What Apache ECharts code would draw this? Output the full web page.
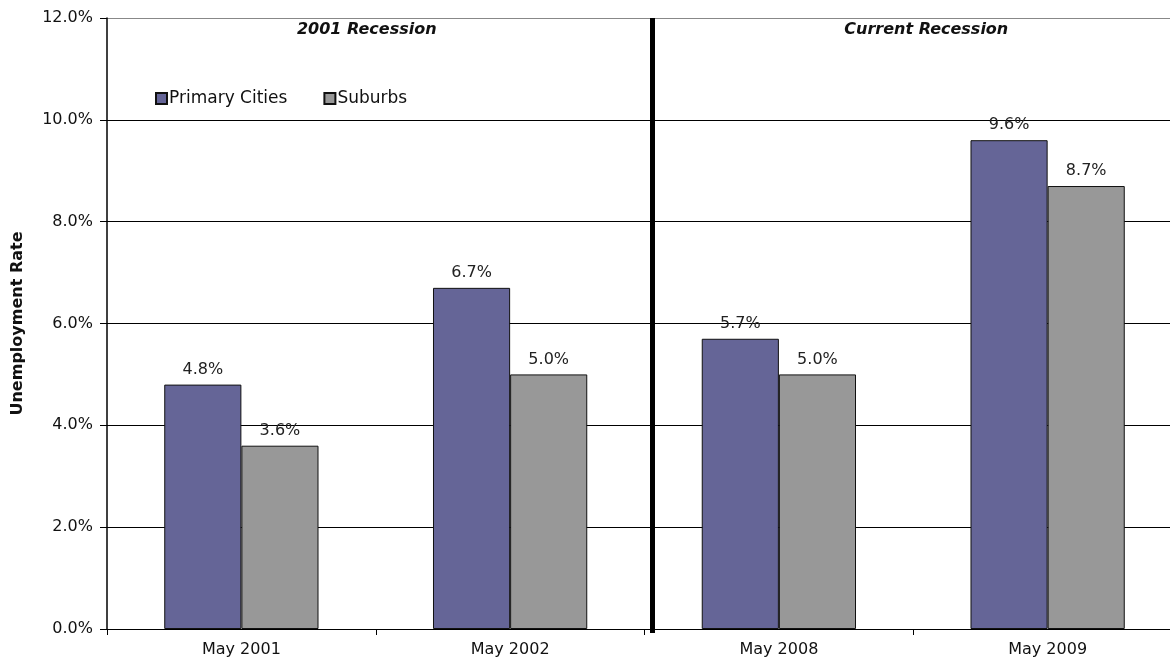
<!DOCTYPE html>
<html>
<head>
<meta charset="utf-8">
<script src="https://cdn.jsdelivr.net/npm/echarts@6/dist/echarts.min.js"></script>
<style>
  html, body { margin: 0; padding: 0; background: #fff; }
  #chart { width: 1170px; height: 662px; }
</style>
</head>
<body>
<div id="chart"></div>
<script>
// Unemployment rate by place type, two recessions
const categories = ['May 2001', 'May 2002', 'May 2008', 'May 2009'];
const primaryCities = [4.8, 6.7, 5.7, 9.6];
const suburbs = [3.6, 5.0, 5.0, 8.7];
const yTicks = { min: 0, max: 12, interval: 2 };
const periodLabels = [
  { text: '2001 Recession', from: 0, to: 1 },
  { text: 'Current Recession', from: 2, to: 3 }
];

const FONT = '"DejaVu Sans", "Liberation Sans", Arial, sans-serif';
const pct = v => v.toFixed(1) + '%';

const chart = echarts.init(document.getElementById('chart'), null, { renderer: 'canvas' });

const barLabel = {
  show: true,
  position: 'top',
  distance: 7,
  color: '#222',
  fontFamily: FONT,
  fontSize: 16,
  formatter: p => pct(p.value)
};

// gridlines are black, the top edge of the plot a lighter grey
const gridColors = ['#000', '#000', '#000', '#000', '#000', '#000', '#888'];

chart.setOption({
  animation: false,
  backgroundColor: '#fff',
  textStyle: { fontFamily: FONT },
  grid: {
    left: 107, width: 1075, top: 18, bottom: 33,
    containLabel: false, outerBoundsMode: 'none'
  },
  legend: {
    left: 150,
    top: 85,
    itemWidth: 11,
    itemHeight: 11,
    itemGap: 36,
    icon: 'rect',
    textStyle: { fontFamily: FONT, fontSize: 17, color: '#111', padding: [0, 0, 0, -3] },
    data: ['Primary Cities', 'Suburbs']
  },
  xAxis: {
    type: 'category',
    data: categories,
    axisLine: { lineStyle: { color: '#000', width: 1 } },
    axisTick: { show: true, length: 6, lineStyle: { color: '#000' } },
    axisLabel: { color: '#111', fontFamily: FONT, fontSize: 16, margin: 13 },
    splitLine: { show: false }
  },
  yAxis: {
    type: 'value',
    min: yTicks.min,
    max: yTicks.max,
    interval: yTicks.interval,
    name: 'Unemployment Rate',
    nameLocation: 'middle',
    nameGap: 81,
    nameRotate: 90,
    nameTextStyle: { fontFamily: FONT, fontSize: 16, fontWeight: 'bold', color: '#111' },
    axisLine: { show: true, lineStyle: { color: '#000', width: 1.5 } },
    axisTick: { show: true, inside: false, length: 7, lineStyle: { color: '#000' } },
    axisLabel: { color: '#111', fontFamily: FONT, fontSize: 16, margin: 14, formatter: v => pct(v) },
    splitLine: { show: true, lineStyle: { color: gridColors, width: 1 } }
  },
  series: [
    {
      name: 'Primary Cities',
      type: 'bar',
      data: primaryCities,
      barWidth: '28.7%',
      barGap: '0%',
      itemStyle: { color: '#656597', borderColor: '#111', borderWidth: 1 },
      label: barLabel
    },
    {
      name: 'Suburbs',
      type: 'bar',
      data: suburbs,
      barWidth: '28.7%',
      barGap: '0%',
      itemStyle: { color: '#989898', borderColor: '#111', borderWidth: 1 },
      label: barLabel
    }
  ]
});

// Heavy divider between the two recessions, and a caption over each period
function drawOverlay() {
  const xs = categories.map(c => chart.convertToPixel({ xAxisIndex: 0 }, c));
  const yTop = chart.convertToPixel({ yAxisIndex: 0 }, yTicks.max);
  const yBottom = chart.convertToPixel({ yAxisIndex: 0 }, yTicks.min);
  const divX = (xs[1] + xs[2]) / 2 + 8;
  const captionShift = [-9, 13];

  const items = periodLabels.map((p, k) => ({
    type: 'text',
    id: 'cap' + k,
    x: (xs[p.from] + xs[p.to]) / 2 + captionShift[k],
    y: yTop + 12,
    style: {
      text: p.text,
      align: 'center',
      verticalAlign: 'middle',
      font: 'italic bold 16px ' + FONT,
      fill: '#111'
    }
  }));
  items.push({
    type: 'line',
    id: 'divider',
    z: 10,
    shape: { x1: divX, y1: yTop, x2: divX, y2: yBottom + 4 },
    style: { stroke: '#000', lineWidth: 5 }
  });
  chart.setOption({ graphic: items });
}
drawOverlay();
</script>
</body>
</html>
